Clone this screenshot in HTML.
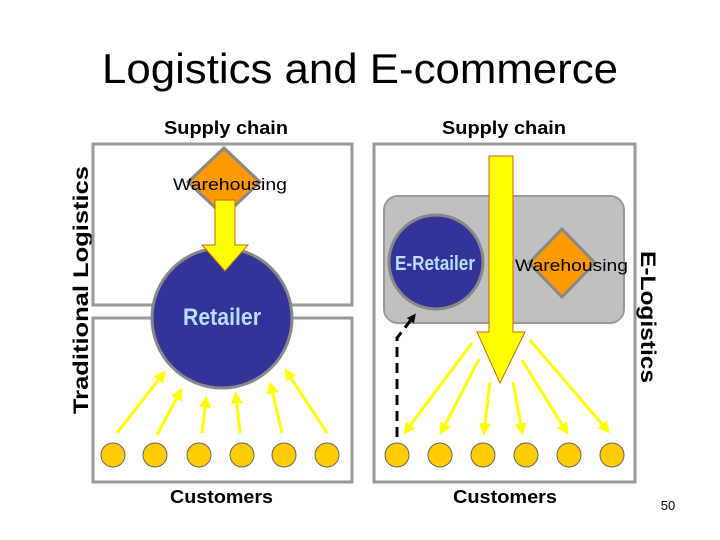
<!DOCTYPE html>
<html><head><meta charset="utf-8"><style>
html,body{margin:0;padding:0;background:#fff;width:720px;height:540px;overflow:hidden}
svg{display:block}
text{font-family:"Liberation Sans",Arial,sans-serif}
</style></head><body>
<svg width="720" height="540" viewBox="0 0 720 540" xmlns="http://www.w3.org/2000/svg">
<defs>
<marker id="ya" markerWidth="4" markerHeight="4" refX="2.5" refY="2" orient="auto" markerUnits="strokeWidth"><path d="M0,0 L4,2 L0,4 z" fill="#ffff00"/></marker>
<marker id="ka" markerWidth="3" markerHeight="3" refX="2" refY="1.5" orient="auto" markerUnits="strokeWidth"><path d="M0,0 L3,1.5 L0,3 z" fill="#000"/></marker>
</defs>
<text x="102" y="83" font-size="42" textLength="516" lengthAdjust="spacingAndGlyphs">Logistics and E-commerce</text>
<text x="164" y="134" font-size="18" font-weight="bold" textLength="124" lengthAdjust="spacingAndGlyphs">Supply chain</text>
<text x="442" y="134" font-size="18" font-weight="bold" textLength="124" lengthAdjust="spacingAndGlyphs">Supply chain</text>
<text transform="translate(88,290) rotate(-90)" font-size="21" font-weight="bold" text-anchor="middle" textLength="248" lengthAdjust="spacingAndGlyphs">Traditional Logistics</text>
<text transform="translate(641,317) rotate(90)" font-size="21" font-weight="bold" text-anchor="middle" textLength="132" lengthAdjust="spacingAndGlyphs">E-Logistics</text>

<rect x="93" y="144" width="259" height="161" fill="#fff" stroke="#999" stroke-width="3"/>
<rect x="93" y="318" width="259" height="164" fill="#fff" stroke="#999" stroke-width="3"/>
<polygon points="224,148 260,182 224,216 188,182" fill="#ff9900" stroke="#888" stroke-width="3"/>
<text x="173" y="190" font-size="17" textLength="114" lengthAdjust="spacingAndGlyphs">Warehousing</text>
<circle cx="222" cy="318" r="70" fill="#333399" stroke="#888" stroke-width="3"/>
<polygon points="215,200 235,200 235,245 248,245 225,271 202,245 215,245" fill="#ffff00" stroke="#cc6600" stroke-width="1"/>
<text x="183" y="325" font-size="24" font-weight="bold" fill="#bbddff" textLength="78" lengthAdjust="spacingAndGlyphs">Retailer</text>
<g stroke="#ffff00" stroke-width="3" marker-end="url(#ya)">
<line x1="117" y1="433" x2="163" y2="374"/>
<line x1="157" y1="435" x2="180" y2="392"/>
<line x1="202" y1="433" x2="206" y2="400"/>
<line x1="240" y1="433" x2="236" y2="396"/>
<line x1="282" y1="433" x2="271" y2="386"/>
<line x1="327" y1="433" x2="287" y2="372"/>
</g>
<g fill="#ffcc00" stroke="#666" stroke-width="1">
<circle cx="113" cy="455" r="12"/><circle cx="155" cy="455" r="12"/><circle cx="199" cy="455" r="12"/>
<circle cx="242" cy="455" r="12"/><circle cx="284" cy="455" r="12"/><circle cx="327" cy="455" r="12"/>
</g>

<rect x="374" y="144" width="261" height="338" fill="#fff" stroke="#999" stroke-width="3"/>
<rect x="384" y="196" width="240" height="127" rx="14" fill="#c0c0c0" stroke="#999" stroke-width="2"/>
<circle cx="436" cy="262" r="47" fill="#333399" stroke="#888" stroke-width="3"/>
<text x="395" y="270" font-size="20" font-weight="bold" fill="#bbddff" textLength="80" lengthAdjust="spacingAndGlyphs">E-Retailer</text>
<polygon points="562,229 595,263 562,297 529,263" fill="#ff9900" stroke="#888" stroke-width="3"/>
<text x="515" y="271" font-size="17" textLength="113" lengthAdjust="spacingAndGlyphs">Warehousing</text>
<polygon points="489,156 513,156 513,332 525,332 500,383 477,332 489,332" fill="#ffff00" stroke="#cc6600" stroke-width="1"/>
<g stroke="#ffff00" stroke-width="3" marker-end="url(#ya)">
<line x1="472" y1="343" x2="406" y2="431"/>
<line x1="479" y1="359" x2="442" y2="431"/>
<line x1="490" y1="382" x2="484" y2="431"/>
<line x1="513" y1="382" x2="522" y2="431"/>
<line x1="522" y1="360" x2="566" y2="431"/>
<line x1="530" y1="340" x2="607" y2="430"/>
</g>
<path d="M397,437 L397,338 L414,316" fill="none" stroke="#000" stroke-width="3" stroke-dasharray="10,6" marker-end="url(#ka)"/>
<g fill="#ffcc00" stroke="#666" stroke-width="1">
<circle cx="397" cy="455" r="12"/><circle cx="440" cy="455" r="12"/><circle cx="483" cy="455" r="12"/>
<circle cx="526" cy="455" r="12"/><circle cx="569" cy="455" r="12"/><circle cx="612" cy="455" r="12"/>
</g>

<text x="170" y="503" font-size="18" font-weight="bold" textLength="103" lengthAdjust="spacingAndGlyphs">Customers</text>
<text x="453" y="503" font-size="18" font-weight="bold" textLength="104" lengthAdjust="spacingAndGlyphs">Customers</text>
<text x="668" y="510" font-size="13" text-anchor="middle">50</text>
</svg>
</body></html>
